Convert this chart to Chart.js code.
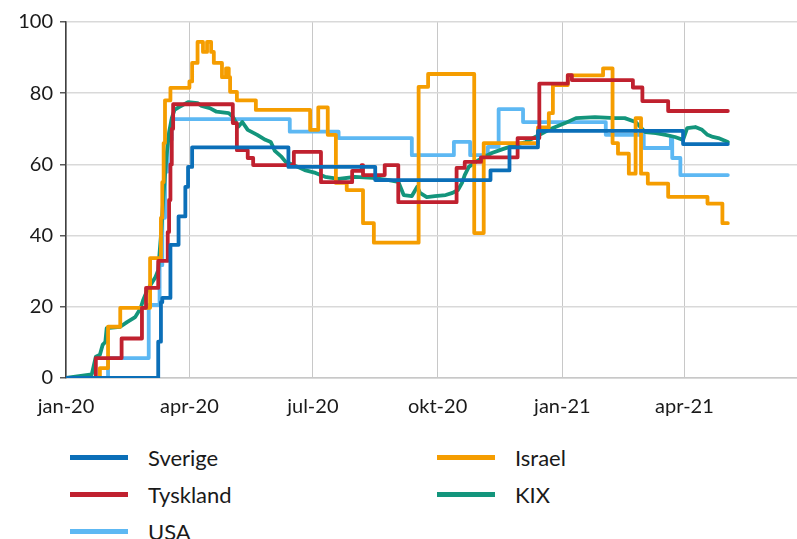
<!DOCTYPE html>
<html><head><meta charset="utf-8">
<script src="https://cdn.jsdelivr.net/npm/chart.js@4.4.1/dist/chart.umd.min.js"></script>
<style>
html,body{margin:0;padding:0;background:#fff;}
#wrap{position:relative;width:797px;height:539px;overflow:hidden;font-family:Lato,'Open Sans',sans-serif;}
#c{position:absolute;left:0;top:0;}
.leg{position:absolute;display:flex;align-items:center;height:30px;font-size:22px;color:#1a1a1a;white-space:nowrap;}
.leg .ln{width:58px;height:5px;margin-right:20px;}
</style></head><body>
<div id="wrap"><canvas id="c" width="797" height="430"></canvas><div id="legend"></div></div>
<script>
// x values are days since 1 Jan 2020
const tickDays = [0, 91, 182, 274, 366, 456];
const tickLabels = ['jan-20', 'apr-20', 'jul-20', 'okt-20', 'jan-21', 'apr-21'];

const sverigeDays = [0, 68, 70, 71, 77, 83, 88, 90, 93, 164, 228, 313, 327, 348, 455, 488];
const sverigeValues = [0, 10.2, 21.3, 22.5, 37.4, 45.4, 53.7, 59.3, 64.8, 59.3, 55.6, 58.3, 64.8, 69.4, 65.7, 65.7];

const tysklandDays = [0, 22, 41, 56, 59, 68, 75, 76, 77, 78, 79, 123, 126, 134, 138, 168, 188, 211, 218, 219, 235, 245, 288, 294, 306, 333, 349, 370, 373, 418, 425, 444, 488];
const tysklandValues = [0, 5.6, 11.1, 19.7, 25.3, 32.9, 41, 50, 60, 70, 76.9, 71.6, 64, 61.8, 59.8, 63.5, 55, 58.2, 59.8, 57, 59.8, 49.4, 59, 60.7, 62, 67.4, 82.7, 85.1, 83.7, 81.6, 77.8, 75, 75];

const usaDays = [0, 31, 61, 69, 71, 73, 75, 78, 165, 201, 255, 286, 298, 311, 319, 337, 398, 426, 446, 447, 453, 488];
const usaValues = [0, 5.6, 20.5, 31.7, 45, 58, 67, 72.7, 69.2, 67.4, 62.6, 66.3, 62.6, 64.9, 75.5, 71.9, 68.3, 64.6, 67.4, 61.8, 57, 57];

const israelDays = [0, 25, 31, 40, 62, 70, 71, 72, 73, 77, 91, 93, 97, 101, 104, 107, 109, 115, 118, 120, 121, 126, 140, 180, 186, 193, 199, 207, 219, 227, 260, 267, 301, 308, 348, 356, 359, 370, 396, 403, 407, 415, 420, 424, 429, 444, 473, 484, 488];
const israelValues = [0, 2.8, 14.4, 19.7, 33.7, 45, 55, 66, 78, 81.5, 83.3, 88.5, 94.4, 91.6, 94.4, 91.6, 88.5, 84.5, 87, 84.5, 80.4, 78, 75.3, 69.7, 76, 68.3, 54.8, 52.8, 43.5, 38, 81.8, 85.4, 40.7, 66, 70.4, 74.4, 82.3, 85, 87, 66, 63, 57.4, 73, 57.4, 54.6, 50.9, 49, 43.5, 43.5];

const kixDays = [0, 19, 22, 25, 27, 29, 30, 40, 45, 51, 55, 57, 60, 66, 68, 70, 72, 74, 76, 78, 80, 83, 90, 97, 100, 106, 111, 120, 123, 127, 130, 134, 141, 147, 151, 154, 159, 162, 168, 176, 184, 191, 201, 213, 226, 238, 245, 249, 255, 259, 261, 266, 272, 280, 285, 289, 292, 294, 297, 302, 307, 314, 322, 331, 339, 346, 356, 368, 376, 390, 405, 412, 420, 427, 435, 442, 449, 455, 458, 464, 469, 473, 477, 481, 488];
const kixValues = [0, 1, 6, 6.5, 9.3, 10.1, 14, 14.4, 15.7, 17.1, 19.6, 22, 24.7, 28.4, 30.3, 40, 52, 62, 69, 73, 75.3, 76, 77.5, 77.2, 76.4, 75.8, 74.8, 74.4, 73.4, 70.6, 71.9, 69.7, 68.3, 66.9, 66.3, 63.8, 62.1, 60.7, 59.8, 58.4, 57.6, 56.5, 55.9, 56.5, 56.2, 55.6, 55.1, 51.4, 51.1, 53.7, 52, 50.8, 51.1, 51.4, 52, 52.8, 54.8, 57, 59.3, 60.7, 61.8, 63.2, 64.3, 65.4, 66.3, 67.7, 69.7, 71.6, 73, 73.3, 73, 73, 71.9, 69.1, 68.8, 68.3, 67.7, 66.9, 70.2, 70.5, 69.7, 68.3, 67.7, 67.4, 66.3];

function pts(days, vals) {
  const n = Math.min(days.length, vals.length);
  const out = [];
  for (let i = 0; i < n; i++) out.push({ x: days[i], y: vals[i] });
  return out;
}

const series = [
  { label: 'Sverige', days: sverigeDays, vals: sverigeValues, color: '#0b6fb8', stepped: true },
  { label: 'Tyskland', days: tysklandDays, vals: tysklandValues, color: '#c0212f', stepped: true },
  { label: 'Israel', days: israelDays, vals: israelValues, color: '#f59d00', stepped: true },
  { label: 'KIX', days: kixDays, vals: kixValues, color: '#13957c', stepped: false },
  { label: 'USA', days: usaDays, vals: usaValues, color: '#5db8f3', stepped: true }
];

Chart.defaults.font.family = "Lato, 'Open Sans', sans-serif";

const datasets = series.map(s => ({
  label: s.label,
  data: pts(s.days, s.vals),
  borderColor: s.color,
  backgroundColor: s.color,
  borderWidth: 3.8,
  stepped: s.stepped,
  tension: 0,
  pointRadius: 0,
  fill: false,
  borderCapStyle: 'round',
  borderJoinStyle: 'round'
}));

const chart = new Chart(document.getElementById('c'), {
  type: 'line',
  data: { datasets },
  options: {
    responsive: false,
    animation: false,
    devicePixelRatio: 1,
    layout: { padding: { top: 22, right: 0, bottom: 0, left: 0 } },
    plugins: { legend: { display: false }, tooltip: { enabled: false } },
    scales: {
      x: {
        type: 'linear', min: 0, max: 539,
        afterBuildTicks: s => { s.ticks = tickDays.map(v => ({ value: v })); },
        afterFit: s => { s.height = 52; s.paddingLeft = 0; s.paddingRight = 0; },
        ticks: { autoSkip: false, maxRotation: 0, padding: 17, color: '#1a1a1a', font: { size: 20 },
                 callback: (v, i) => tickLabels[i] },
        grid: { color: '#c8c8c8', lineWidth: 1, drawTicks: false },
        border: { color: '#c8c8c8', width: 1.5 }
      },
      y: {
        min: 0, max: 100,
        ticks: { stepSize: 20, padding: 7, color: '#1a1a1a', font: { size: 20 } },
        afterFit: s => { s.width = 66; s.paddingTop = 0; s.paddingBottom = 0; },
        grid: { color: '#d9d9d9', lineWidth: 1.5, tickLength: 6, tickColor: '#595959' },
        border: { color: '#404040', width: 1.5 }
      }
    }
  }
});

// legend laid out in two columns like the reference
const legendOrder = ['Sverige', 'Tyskland', 'USA', 'Israel', 'KIX'];
const legendEl = document.getElementById('legend');
legendOrder.forEach((name, i) => {
  const s = series.find(d => d.label === name);
  const col = Math.floor(i / 3), row = i % 3;
  const item = document.createElement('div');
  item.className = 'leg';
  item.style.left = (col === 0 ? 70 : 437) + 'px';
  item.style.top = (442 + row * 37) + 'px';
  const ln = document.createElement('span');
  ln.className = 'ln';
  ln.style.background = s.color;
  const tx = document.createElement('span');
  tx.textContent = name;
  item.appendChild(ln); item.appendChild(tx);
  legendEl.appendChild(item);
});
</script>
</body></html>
